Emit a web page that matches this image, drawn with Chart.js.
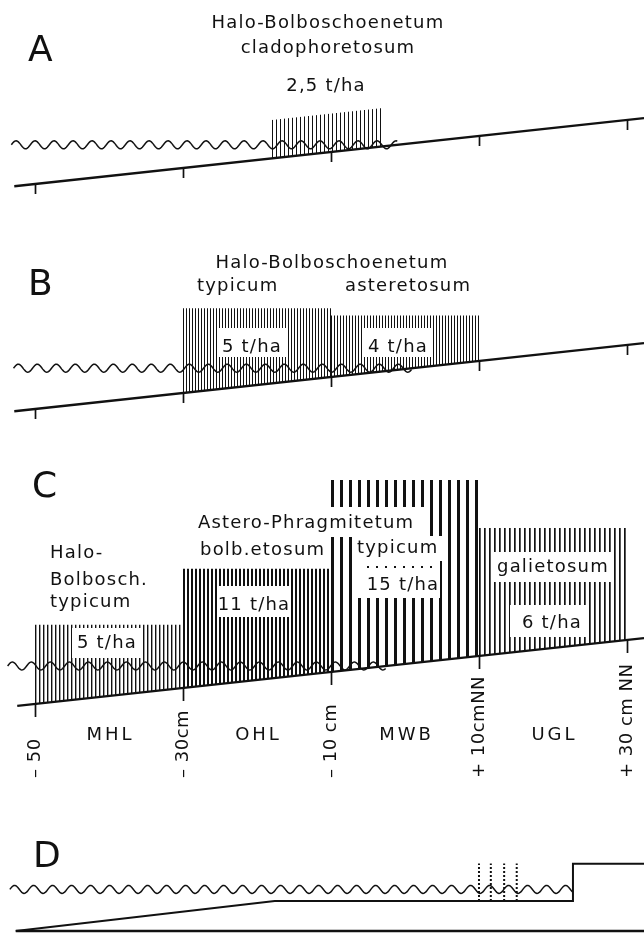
<!DOCTYPE html>
<html>
<head>
<meta charset="utf-8">
<script src="https://cdn.jsdelivr.net/npm/chart.js@4.4.0/dist/chart.umd.min.js"></script>
<style>
  html, body { margin: 0; padding: 0; background: #fff; }
  canvas { display: block; }
</style>
</head>
<body>
<canvas id="profil" width="644" height="933"></canvas>
<script>
// Vegetationsprofile A-D (Hoehe in cm NN, Biomasse in t/ha)

var tickValues = [-50, -30, -10, 10, 30];
var tickLabels = ['– 50', '– 30cm', '– 10 cm', '+ 10cmNN', '+ 30 cm NN'];
var zones = ['MHL', 'OHL', 'MWB', 'UGL'];

// Wasserstand je Profil A, B, C, D (cm NN)
var waterLevel = [-1, 1, -2.5, 0];

// Vegetationsbloecke
var blockPanel = ['A', 'B', 'B', 'C', 'C', 'C', 'C'];
var blockFrom  = [-18, -30, -10, -50, -30, -10, 10];
var blockTo    = [-3, -10, 10, -30, -10, 10, 30];
var blockTopL  = [30, 76, 67, 49, 119, 230, 170];
var blockTopR  = [45, 76, 67, 49, 119, 230, 170];
var biomass    = [2.5, 5, 4, 5, 11, 15, 6];

// Profil D: Vorland, Deichfuss, Schilf
var dProfileX = [-52.6, -17.6, 22.7, 22.7, 32.3];
var dProfileY = [-52, -14.5, -14.5, 32, 32];
var dBase = -52;
var dReedX = [10, 11.6, 13.4, 15.1];
var dReedTop = 32.5;

// ---- Layout ----
var W = 644, H = 933;
var X_MIN = -54.73, X_MAX = 32.3;
var PX_PER_CM = 0.8;
var FONT = '"DejaVu Sans", sans-serif';
var INK = '#111';

function yAxis(refPx, refVal) {
  var max = refVal + refPx / PX_PER_CM;
  return { type: 'linear', display: false, min: max - H / PX_PER_CM, max: max };
}

var panels = ['A', 'B', 'C', 'D'];
var groundStart = [-52.8, -52.8, -52.4];
var waveStart = [-53.2, -52.9, -53.7, -53.4];
var hatchStyle = [[4, 1], [3, 1], [3, 1], [4, 1.4], [4, 2], [9, 3], [5, 1.7]];

var ctx = document.getElementById('profil').getContext('2d');

function hatch(period, width) {
  var c = document.createElement('canvas');
  c.width = Math.round(period * 2);
  c.height = 4;
  var g = c.getContext('2d');
  g.fillStyle = INK;
  g.fillRect(0, 0, width, 4);
  g.fillRect(period, 0, width, 4);
  return ctx.createPattern(c, 'repeat');
}

var datasets = [];

// Gelaendelinien A-C (Hoehe = Lage)
var groundIndex = {};
for (var i = 0; i < 3; i++) {
  groundIndex[panels[i]] = datasets.length;
  datasets.push({
    yAxisID: 'y' + panels[i],
    data: [{ x: groundStart[i], y: groundStart[i] }, { x: X_MAX, y: X_MAX }],
    borderColor: INK, borderWidth: 2.3, fill: false
  });
}
// Profil D
datasets.push({
  yAxisID: 'yD',
  data: dProfileX.map(function (x, k) { return { x: x, y: dProfileY[k] }; }),
  borderColor: INK, borderWidth: 2, fill: false
});
datasets.push({
  yAxisID: 'yD',
  data: [{ x: dProfileX[0], y: dBase }, { x: X_MAX, y: dBase }],
  borderColor: INK, borderWidth: 2.6, fill: false
});
dReedX.forEach(function (x) {
  datasets.push({
    yAxisID: 'yD',
    data: [{ x: x, y: dProfileY[1] }, { x: x, y: dReedTop }],
    borderColor: INK, borderWidth: 2, borderDash: [2, 2], fill: false
  });
});
// Wasserlinien (gewellt gezeichnet im Plugin)
waterLevel.forEach(function (lvl, k) {
  var end = k < 3 ? lvl : dProfileX[2];
  datasets.push({
    yAxisID: 'y' + panels[k],
    wavy: true,
    data: [{ x: waveStart[k], y: lvl }, { x: end, y: lvl }],
    borderColor: 'transparent', borderWidth: 0, fill: false
  });
});
// Vegetation
var patterns = [];
blockPanel.forEach(function (p, k) {
  var pat = hatch(hatchStyle[k][0], hatchStyle[k][1]);
  patterns.push(pat);
  datasets.push({
    yAxisID: 'y' + p,
    block: k,
    data: [{ x: blockFrom[k], y: blockTopL[k] }, { x: blockTo[k], y: blockTopR[k] }],
    borderWidth: 0, borderColor: 'transparent',
    backgroundColor: pat,
    fill: groundIndex[p],
    order: 5
  });
});

function tha(v) { return String(v).replace('.', ',') + ' t/ha'; }

// Beschriftung: [Text, x, Grundlinie, Ausrichtung, Weissfeld]
var texts = [
  ['Halo-Bolboschoenetum', 328, 28, 'center'],
  ['cladophoretosum', 328, 53, 'center'],
  [tha(biomass[0]), 326, 91, 'center'],
  ['Halo-Bolboschoenetum', 332, 268, 'center'],
  ['typicum', 197, 291, 'left'],
  ['asteretosum', 345, 291, 'left'],
  [tha(biomass[1]), 252, 352, 'center', [217, 328, 70, 29]],
  [tha(biomass[2]), 398, 352, 'center', [363, 328, 70, 29]],
  ['Halo-', 50, 558, 'left'],
  ['Bolbosch.', 50, 585, 'left'],
  ['typicum', 50, 607, 'left'],
  [tha(biomass[3]), 107, 648, 'center', [72, 628, 71, 30]],
  [tha(biomass[4]), 254, 610, 'center', [217, 586, 73, 31]],
  ['Astero-Phragmitetum', 198, 528, 'left', [327, 507, 103, 30]],
  ['bolb.etosum', 200, 555, 'left'],
  ['typicum', 357, 553, 'left', [353, 536, 90, 25]],
  [tha(biomass[5]), 403, 590, 'center', [358, 560, 82, 38]],
  ['galietosum', 497, 572, 'left', [492, 552, 121, 30]],
  [tha(biomass[6]), 552, 628, 'center', [510, 605, 78, 32]]
];
var letters = [['A', 28, 61], ['B', 28, 295], ['C', 32, 497], ['D', 33, 867]];

var profilPlugin = {
  id: 'profil',
  afterUpdate: function (chart) {
    var xs = chart.scales.x;
    blockFrom.forEach(function (x0, k) {
      var px = xs.getPixelForValue(x0);
      patterns[k].setTransform(new DOMMatrix().translate(Math.round(px), 0));
    });
  },
  afterDatasetsDraw: function (chart) {
    var c = chart.ctx, xs = chart.scales.x;
    c.save();
    c.strokeStyle = INK;
    c.fillStyle = INK;

    // Wellenlinien
    c.lineWidth = 1.5;
    chart.data.datasets.forEach(function (ds, i) {
      if (!ds.wavy) return;
      var pts = chart.getDatasetMeta(i).data;
      var x0 = pts[0].x, x1 = pts[pts.length - 1].x, y = pts[0].y;
      c.beginPath();
      for (var x = x0; x <= x1; x += 1) {
        var yy = y - 4 * Math.sin((x - x0) / 19 * 2 * Math.PI);
        if (x === x0) c.moveTo(x, yy); else c.lineTo(x, yy);
      }
      c.stroke();
    });

    // Teilstriche auf den Gelaendelinien A-C
    c.lineWidth = 1.7;
    ['yA', 'yB', 'yC'].forEach(function (id, k) {
      var ys = chart.scales[id];
      tickValues.forEach(function (t) {
        var px = Math.round(xs.getPixelForValue(t)) + 0.5;
        var py = ys.getPixelForValue(t);
        c.beginPath();
        c.moveTo(px, py - 1);
        c.lineTo(px, py + (k === 2 ? 13 : 10));
        c.stroke();
      });
    });

    // Texte mit Weissfeldern
    c.font = '18px ' + FONT;
    c.letterSpacing = '1.2px';
    c.textBaseline = 'alphabetic';
    texts.forEach(function (t) {
      if (t[4]) {
        c.fillStyle = '#fff';
        c.fillRect(t[4][0], t[4][1], t[4][2], t[4][3]);
      }
      c.fillStyle = INK;
      c.textAlign = t[3];
      c.fillText(t[0], t[1], t[2]);
    });
    // punktierte Linie im Schilfblock
    c.save();
    c.lineWidth = 2;
    c.setLineDash([2, 7]);
    c.beginPath();
    c.moveTo(367, 567);
    c.lineTo(436, 567);
    c.stroke();
    c.restore();

    // Zonen und Hoehenangaben unter Profil C
    c.letterSpacing = '3px';
    c.textAlign = 'center';
    zones.forEach(function (z, k) {
      var mid = (tickValues[k] + tickValues[k + 1]) / 2;
      c.fillText(z, xs.getPixelForValue(mid) + 1.5, 740);
    });
    c.letterSpacing = '0.5px';
    tickLabels.forEach(function (lab, k) {
      c.save();
      c.translate(xs.getPixelForValue(tickValues[k]), 778);
      c.rotate(-Math.PI / 2);
      c.textAlign = 'left';
      c.textBaseline = 'middle';
      c.fillText(lab, 0, 0);
      c.restore();
    });

    // Profilbuchstaben
    c.letterSpacing = '0px';
    c.font = '36px ' + FONT;
    c.textAlign = 'left';
    letters.forEach(function (l) { c.fillText(l[0], l[1], l[2]); });
    c.restore();
  }
};

new Chart(ctx, {
  type: 'line',
  data: { datasets: datasets },
  options: {
    responsive: false,
    animation: false,
    events: [],
    layout: { padding: 0 },
    elements: { point: { radius: 0 }, line: { tension: 0 } },
    plugins: { legend: { display: false }, tooltip: { enabled: false } },
    scales: {
      x: { type: 'linear', display: false, min: X_MIN, max: X_MAX },
      yA: yAxis(168, -30),
      yB: yAxis(393, -30),
      yC: yAxis(688, -30),
      yD: yAxis(931, dBase)
    }
  },
  plugins: [profilPlugin]
});
</script>
</body>
</html>
